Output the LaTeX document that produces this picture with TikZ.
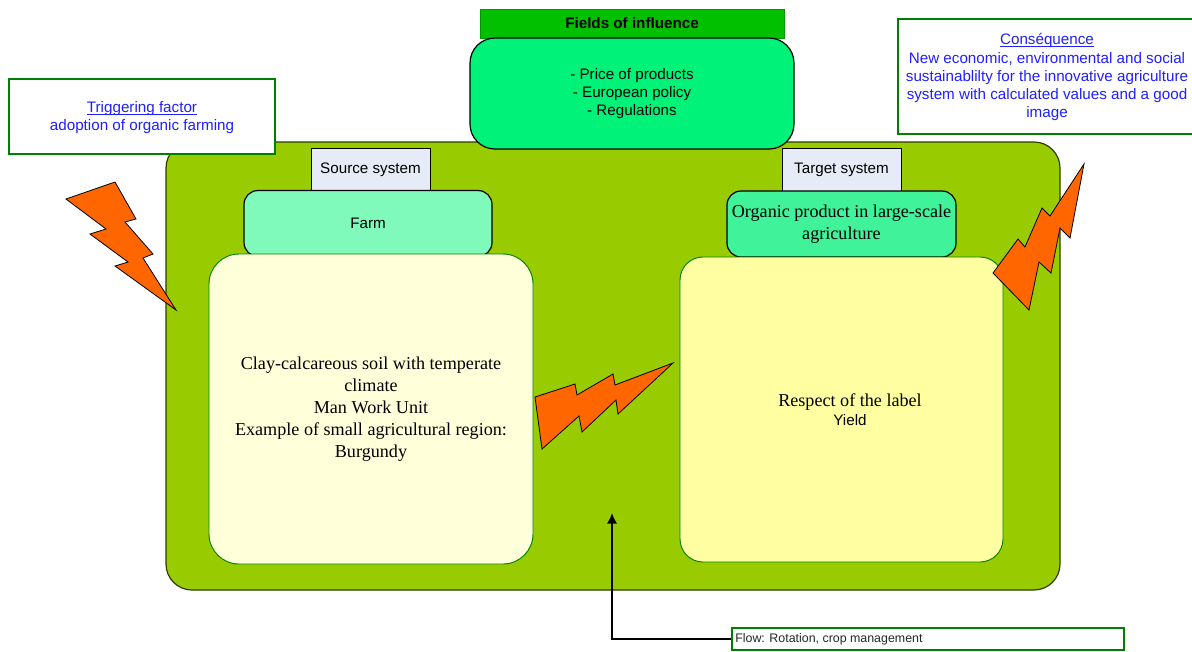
\documentclass[tikz,border=0pt]{standalone}
\usepackage{fontspec}
\setmainfont{Liberation Sans}
\newfontfamily\seriffont{Liberation Serif}
\usetikzlibrary{arrows.meta}
\newcommand\noteline[1]{\rule[-2.4pt]{0pt}{12.1pt}\underline{\smash{#1}}}
\definecolor{mainfill}{HTML}{99CC00}
\definecolor{fieldhead}{HTML}{00C000}
\definecolor{fieldfill}{HTML}{00F279}
\definecolor{farmfill}{HTML}{80FABB}
\definecolor{organicfill}{HTML}{40F29A}
\definecolor{srcfill}{HTML}{FFFFD9}
\definecolor{tgtfill}{HTML}{FFFFA1}
\definecolor{tabfill}{HTML}{E6ECF7}
\definecolor{boltfill}{HTML}{FF6600}
\definecolor{noteblue}{HTML}{2020FF}
\definecolor{notegreen}{HTML}{008000}
\tikzset{
  boxsize/.style 2 args={minimum width=#1*0.75pt,minimum height=#2*0.75pt,inner sep=0pt,align=center},
  sanstext/.style={font=\fontsize{11.4pt}{13.7pt}\selectfont},
  seriftext/.style={font=\seriffont\fontsize{13.6pt}{16.5pt}\selectfont},
  notebox/.style={draw=notegreen,line width=1.5pt,fill=white,text=noteblue,sanstext},
  roundbox/.style={draw=black,line width=0.9pt,rounded corners=#1*0.75pt},
  panelbox/.style={draw=notegreen,line width=0.7pt,rounded corners=#1*0.75pt},
  tabbox/.style={draw=black,line width=0.5pt,fill=tabfill,sanstext},
  boltshape/.style={draw=black,line width=0.6pt,fill=boltfill,line join=miter},
  flowline/.style={draw=black,line width=2.2pt,-{Latex[length=8pt,width=8pt]}}
}
\begin{document}
\begin{tikzpicture}[x=0.75pt,y=-0.75pt]
\useasboundingbox (0,0) rectangle (1192,651);
\node[boxsize={894}{448},roundbox=26,draw=black!70!mainfill,fill=mainfill] (system) at (613,366) {};
% source and target
\node[boxsize={119}{43},tabbox] (sourcetab) at (370.5,170) {Source system};
\node[boxsize={119}{43},tabbox] (targettab) at (841.5,170) {Target system};
\node[boxsize={248}{66},roundbox=14,fill=farmfill,sanstext] (farm) at (368,223.5) {Farm};
\node[boxsize={229}{66},roundbox=14,fill=organicfill,seriftext] (organic) at (841.5,224) {Organic product in large-scale\\agriculture};
\node[boxsize={324}{310},panelbox=30,fill=srcfill,seriftext] (source) at (371,409) {Clay-calcareous soil with temperate\\climate\\Man Work Unit\\Example of small agricultural region:\\Burgundy};
\node[boxsize={323}{305},panelbox=23,fill=tgtfill] (target) at (841.5,409.5) {};
\node[inner sep=0pt,align=center] (targetlabel) at (850,409.5) {{\seriffont\fontsize{13.6pt}{15pt}\selectfont Respect of the label}\\[2pt]{\fontsize{11.4pt}{15pt}\selectfont Yield}};
% fields of influence
\node[boxsize={304}{29},draw=fieldhead!80!black,line width=0.5pt,fill=fieldhead,sanstext] (fieldtitle) at (632,23.5) {\textbf{Fields of influence}};
\node[boxsize={324}{111},roundbox=25,fill=fieldfill,sanstext] (fields) at (632,93.5) {- Price of products\\- European policy\\- Regulations};
% notes
\node[boxsize={266}{75},notebox] (trigger) at (142,116.5) {\noteline{Triggering factor}\\adoption of organic farming};
\node[boxsize={298}{115},notebox] (consequence) at (1047,76.5) {\noteline{Conséquence}\\New economic, environmental and social\\sustainablilty for the innovative agriculture\\system with calculated values and a good\\image};
% bolts
\draw[boltshape] (66,199) -- (115,182) -- (136,219) -- (125,222) -- (153,254) -- (143,258) -- (176,310) -- (115,266) -- (128,262) -- (90,234) -- (106,229) -- cycle;
\draw[boltshape] (1084,164) -- (1070,238) -- (1060,228) -- (1051,273) -- (1039,262) -- (1029,310) -- (993,273) -- (1018,239) -- (1025,247) -- (1042,208) -- (1050,216) -- cycle;
\draw[boltshape] (673,363) -- (618,414) -- (616,400) -- (582,432) -- (579,416) -- (542,449) -- (535,397) -- (575,384) -- (577,395) -- (613,374) -- (615,385) -- cycle;
% flow
\node[boxsize={392}{22},draw=notegreen,line width=0.9pt,fill=white] (flow) at (928,639) {};
\node[anchor=west,inner sep=0pt,font=\fontsize{9.3pt}{11pt}\selectfont,text=black!85] (flowlabel) at (735,639) {Flow: Rotation, crop management};
\coordinate (flowtip) at (612,513);
\draw[flowline] (flow.west) -| (flowtip);
\end{tikzpicture}
\end{document}
